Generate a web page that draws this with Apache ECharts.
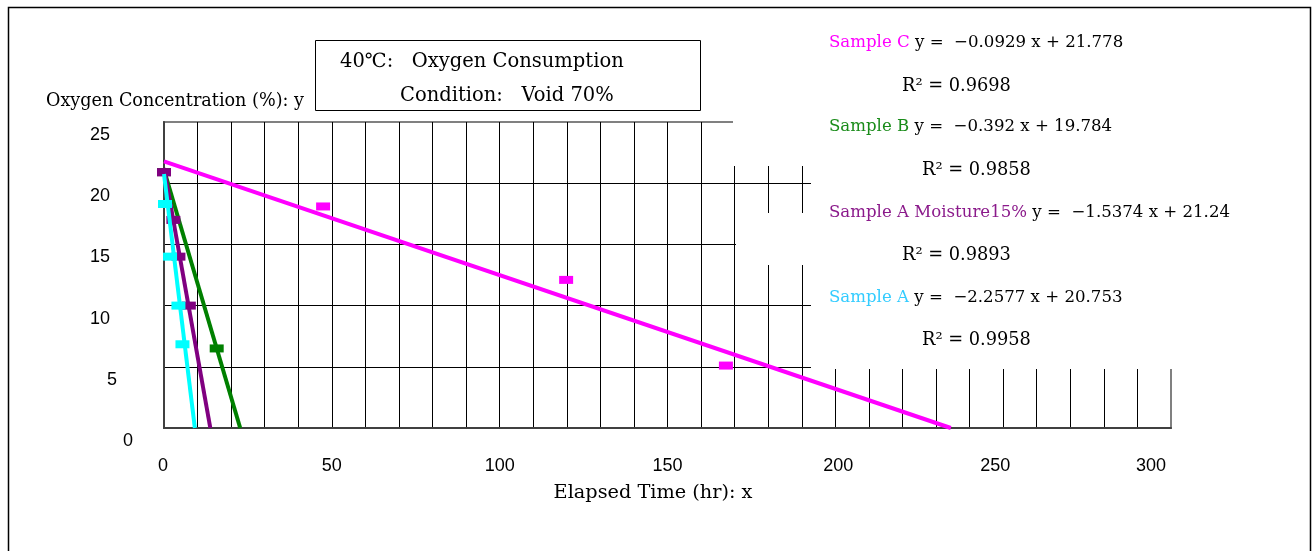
<!DOCTYPE html>
<html><head><meta charset="utf-8">
<script src="https://cdn.jsdelivr.net/npm/echarts@6/dist/echarts.min.js"></script>
<style>html,body{margin:0;padding:0;background:#fff}#c{width:1312px;height:551px}</style>
</head><body><div id="c"></div><script>
// ---- data ----
const xTicks = [0, 50, 100, 150, 200, 250, 300];
const yTicks = [0, 5, 10, 15, 20, 25];
const seriesNames = ['Sample C', 'Sample B', 'Sample A Moisture15%', 'Sample A'];
const seriesColors = ['#FF00FF', '#008000', '#800080', '#00FFFF'];
const labelColors = ['#FF00FF', '#1A8C1A', '#8B1A8B', '#33CCFF'];
const sampleC = [[0, 20.9], [47.4, 18.1], [119.8, 12.1], [167.4, 5.1]];
const sampleB = [[0, 20.9], [15.7, 6.5]];
const sampleAM = [[0, 20.9], [2.8, 17.0], [4.3, 14.0], [7.4, 10.0]];
const sampleA = [[0.3, 18.3], [1.8, 14.0], [4.3, 10.0], [5.5, 6.84]];
const trendC = [[0, 21.778], [234.4, 0]];
const trendB = [[0, 21.1], [22.7, 0]];
const trendAM = [[0, 21.24], [13.8, 0]];
const trendA = [[0, 20.753], [9.19, 0]];
const equations = ['y =  −0.0929 x + 21.778', 'y =  −0.392 x + 19.784', 'y =  −1.5374 x + 21.24', 'y =  −2.2577 x + 20.753'];
const r2Texts = ['R² = 0.9698', 'R² = 0.9858', 'R² = 0.9893', 'R² = 0.9958'];
const titleLines = ['40℃:   Oxygen Consumption', 'Condition:   Void 70%'];
const yAxisTitle = 'Oxygen Concentration (%): y';
const xAxisTitle = 'Elapsed Time (hr): x';

// ---- styling ----
const SERIF = '"DejaVu Serif", "Liberation Serif", serif';
const SANS = '"Liberation Sans", Arial, sans-serif';
const points = [sampleC, sampleB, sampleAM, sampleA];
const trends = [trendC, trendB, trendAM, trendA];

const xRich = {};
const xPad = {0: [0, 2, 0, 0], 50: [0, 0, 0, 0], 100: [0, 0, 0, 0], 150: [0, 0, 0, 0], 200: [0, 0, 0, 6], 250: [0, 16, 0, 0], 300: [0, 40, 0, 0]};
xTicks.forEach(v => { xRich['p' + v] = {padding: xPad[v], fontSize: 18, fontFamily: SANS, color: '#000'}; });
const yRich = {
  z: {padding: [26, 0, 0, 0], fontSize: 18, fontFamily: SANS, color: '#000'},
  f: {padding: [26, 16, 0, 0], fontSize: 18, fontFamily: SANS, color: '#000'},
  n: {padding: [26, 23, 0, 0], fontSize: 18, fontFamily: SANS, color: '#000'}
};

const series = [];
for (let i = 0; i < 4; i++) {
  series.push({
    name: seriesNames[i] + ' trend', type: 'line', data: trends[i], showSymbol: false,
    lineStyle: {color: seriesColors[i], width: 4}, z: 3 + i * 2, silent: true, animation: false
  });
  series.push({
    name: seriesNames[i], type: 'scatter', data: points[i], symbol: 'rect', symbolSize: [14, 8],
    itemStyle: {color: seriesColors[i], opacity: 1}, z: 4 + i * 2, animation: false
  });
}

const legendYs = [[43, 86], [127, 170], [213, 255], [298, 340]];
const r2Xs = [902, 922, 902, 922];
const graphics = [
  // white text backgrounds covering parts of the grid
  {type: 'rect', z: 50, shape: {x: 733, y: 9, width: 576, height: 157}, style: {fill: '#fff'}},
  {type: 'rect', z: 50, shape: {x: 736, y: 213, width: 573, height: 52}, style: {fill: '#fff'}},
  {type: 'rect', z: 50, shape: {x: 811, y: 166, width: 498, height: 203}, style: {fill: '#fff'}},
  // outer frame
  {type: 'rect', z: 60, shape: {x: 8.5, y: 7.5, width: 1302, height: 600}, style: {fill: 'none', stroke: '#000', lineWidth: 1.5}},
  // title box
  {type: 'rect', z: 60, shape: {x: 315.5, y: 40.5, width: 385, height: 70}, style: {fill: '#fff', stroke: '#000', lineWidth: 1}},
  {type: 'text', z: 61, x: 340, y: 62, style: {text: titleLines[0], font: '19.5px ' + SERIF, fill: '#000', verticalAlign: 'middle'}},
  {type: 'text', z: 61, x: 400, y: 96, style: {text: titleLines[1], font: '19.5px ' + SERIF, fill: '#000', verticalAlign: 'middle'}},
  {type: 'text', z: 61, x: 46, y: 101, style: {text: yAxisTitle, font: '17.6px ' + SERIF, fill: '#000', verticalAlign: 'middle'}},
  {type: 'text', z: 61, x: 653, y: 493, style: {text: xAxisTitle, font: '19.3px ' + SERIF, fill: '#000', align: 'center', verticalAlign: 'middle'}}
];
for (let i = 0; i < 4; i++) {
  graphics.push({type: 'text', z: 61, x: 829, y: legendYs[i][0], style: {
    text: '{n|' + seriesNames[i] + '} ' + equations[i], font: '16.6px ' + SERIF, fill: '#000', verticalAlign: 'middle',
    rich: {n: {fill: labelColors[i], font: '16.6px ' + SERIF}}
  }});
  graphics.push({type: 'text', z: 61, x: r2Xs[i], y: legendYs[i][1], style: {
    text: r2Texts[i], font: '17.8px ' + SERIF, fill: '#000', verticalAlign: 'middle'
  }});
}

const chart = echarts.init(document.getElementById('c'), null, {renderer: 'canvas'});
chart.setOption({
  backgroundColor: '#fff',
  animation: false,
  grid: {left: 164, top: 122, width: 1007, height: 306, show: true, borderColor: '#808080', borderWidth: 2, containLabel: false},
  xAxis: {
    type: 'value', min: 0, max: 300, interval: 10,
    axisLine: {show: true, onZero: false, lineStyle: {color: '#404040', width: 2}},
    axisTick: {show: false},
    splitLine: {show: true, showMinLine: false, showMaxLine: false, lineStyle: {color: '#000', width: 1}},
    axisLabel: {
      margin: 29, rich: xRich,
      formatter: v => xTicks.indexOf(v) >= 0 ? '{p' + v + '|' + v + '}' : ''
    }
  },
  yAxis: {
    type: 'value', min: 0, max: 25, interval: 5,
    axisLine: {show: true, onZero: false, lineStyle: {color: '#404040', width: 2}},
    axisTick: {show: false},
    splitLine: {show: true, showMinLine: false, showMaxLine: false, lineStyle: {color: '#000', width: 1}},
    axisLabel: {
      margin: 31, rich: yRich,
      formatter: v => (v === 0 ? '{z|' : v === 5 ? '{f|' : '{n|') + v + '}'
    }
  },
  series: series,
  graphic: graphics
});
</script></body></html>
